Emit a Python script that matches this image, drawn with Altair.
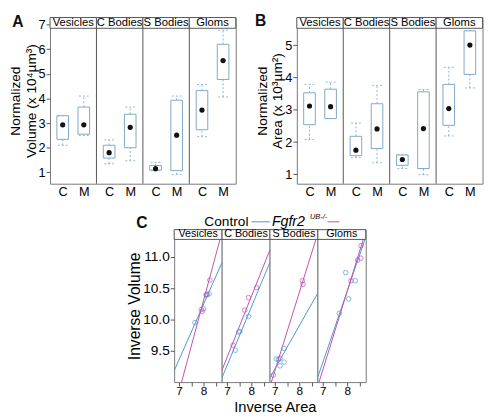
import altair as alt
import pandas as pd

FONT = "Liberation Sans"
BOX = "#7fa7c9"
WHISK = "#8fb3d3"
BLUE = "#4f98c8"
MAG = "#c24fb5"
FRAME = "#555"

groups = ["Vesicles", "C Bodies", "S Bodies", "Gloms"]
conds = ["C", "M"]

# Panel A: normalized volume (x 10^4 um^3), order per group: C, M
vol_mean = [2.93, 2.93, 1.80, 2.83, 1.15, 2.51, 3.53, 5.54]
vol_q1 = [2.34, 2.55, 1.58, 2.00, 1.09, 1.07, 2.73, 4.77]
vol_q3 = [3.30, 3.65, 2.10, 3.36, 1.28, 3.93, 4.32, 6.20]
vol_lo = [2.10, 2.50, 1.35, 1.47, 1.07, 0.91, 2.45, 4.06]
vol_hi = [3.30, 4.10, 2.32, 3.65, 1.41, 4.10, 4.57, 6.77]

# Panel B: normalized area (x 10^3 um^2)
area_mean = [3.12, 3.10, 1.75, 2.41, 1.46, 2.42, 3.04, 5.01]
area_q1 = [2.54, 2.73, 1.58, 1.80, 1.28, 1.18, 2.52, 4.10]
area_q3 = [3.53, 3.64, 2.18, 3.19, 1.60, 3.56, 3.79, 5.45]
area_lo = [2.08, 2.73, 1.52, 1.36, 1.18, 0.99, 2.19, 3.68]
area_hi = [3.79, 3.86, 2.59, 3.76, 1.62, 3.63, 4.32, 5.45]

# Panel C: inverse area vs inverse volume
series_names = ["Control", "Fgfr2"]
ctrl_x = [[7.65, 8.00, 8.10, 8.14, 8.23], [7.34, 7.48, 7.53, 7.88],
          [7.06, 7.15, 7.21, 7.38, 7.38], [7.68, 7.94, 8.06, 8.33]]
ctrl_y = [[9.95, 10.17, 10.39, 10.40, 10.41], [9.51, 9.80, 9.81, 10.05],
          [9.37, 9.36, 9.26, 9.54, 9.32], [10.10, 10.75, 10.33, 10.62]]
mut_x = [[7.91, 7.95, 8.14, 8.26], [7.25, 7.73, 7.88, 8.21],
         [6.94, 7.21, 8.13, 8.15], [8.16, 8.43, 8.56, 8.57]]
mut_y = [[10.16, 10.13, 10.40, 10.63], [9.59, 10.15, 10.35, 10.51],
         [9.11, 9.38, 10.62, 10.56], [10.62, 10.95, 10.98, 11.18]]
ctrl_fit = [(3.17, 0.884), (2.68, 0.94), (4.38, 0.69), (1.33, 1.14)]
mut_fit = [(-1.30, 1.45), (2.53, 0.98), (0.43, 1.25), (0.37, 1.26)]

NOSTROKE = alt.ViewBackground(stroke=None)


def box_chart(mean, q1, q3, lo, hi, ybot, ytop, yticks, ytitle, letter, letter_xy,
              width=190, plot_h=159, strip_h=11):
    span = 2.2
    dom_top = ytop + strip_h * (ytop - ybot) / plot_h
    rows = []
    for i, g in enumerate(groups):
        for j, c in enumerate(conds):
            k = 2 * i + j
            pos = i * span + (j + 1)
            rows.append(dict(group=g, cond=c, pos=pos, mean=mean[k], q1=q1[k], q3=q3[k],
                             lo=lo[k], hi=hi[k], bl=pos - 0.275, br=pos + 0.275,
                             cl=pos - 0.23, cr=pos + 0.23))
    df = pd.DataFrame(rows)
    sdf = pd.DataFrame(dict(label=groups,
                            x0=[i * span + 0.4 for i in range(4)],
                            x1=[(i + 1) * span + 0.4 for i in range(4)]))
    sdf["xm"] = (sdf.x0 + sdf.x1) / 2
    sdf["y0"] = ytop
    sdf["y1"] = dom_top
    sdf["ym"] = (ytop + dom_top) / 2
    ddf = pd.DataFrame(dict(x=[(i + 1) * span + 0.4 for i in range(3)]))

    xs = alt.Scale(domain=[0.4, 4 * span + 0.4], nice=False, zero=False)
    ys = alt.Scale(domain=[ybot, dom_top], nice=False, zero=False)
    xax = alt.Axis(values=[r["pos"] for r in rows],
                   labelExpr=f"(datum.value - floor((datum.value - 0.4) / {span}) * {span}) < 1.5 ? '{conds[0]}' : '{conds[1]}'",
                   ticks=False, title=None, labelFontSize=13, labelPadding=2)
    yax = alt.Axis(values=yticks, title=ytitle, titleFontSize=14, labelFontSize=13,
                   tickSize=4, titleLineHeight=16, titlePadding=0, labelPadding=1)

    def X(f):
        return alt.X(f"{f}:Q", scale=xs, axis=xax)

    def Y(f):
        return alt.Y(f"{f}:Q", scale=ys, axis=yax)

    base = alt.Chart(df)
    dash = dict(color=WHISK, strokeDash=[2, 2], strokeWidth=1)
    layers = [
        alt.Chart(ddf).mark_rule(color=FRAME, strokeWidth=1).encode(x=X("x")),
        base.mark_rule(**dash).encode(x=X("pos"), y=Y("q3"), y2="hi:Q"),
        base.mark_rule(**dash).encode(x=X("pos"), y=Y("lo"), y2="q1:Q"),
        base.mark_rule(**dash).encode(x=X("cl"), x2="cr:Q", y=Y("hi")),
        base.mark_rule(**dash).encode(x=X("cl"), x2="cr:Q", y=Y("lo")),
        base.mark_rect(fill="white", stroke=BOX, strokeWidth=1).encode(x=X("bl"), x2="br:Q", y=Y("q1"), y2="q3:Q"),
        base.mark_circle(size=28, color="#111", opacity=1).encode(x=X("pos"), y=Y("mean")),
        alt.Chart(sdf).mark_rect(fill="white", stroke=FRAME, strokeWidth=1).encode(
            x=X("x0"), x2="x1:Q", y=Y("y0"), y2="y1:Q"),
        alt.Chart(sdf).mark_text(fontSize=11.5, font=FONT, baseline="middle", color="#000").encode(
            x=X("xm"), y=Y("ym"), text="label:N"),
        alt.Chart(pd.DataFrame({"label": [letter]})).mark_text(
            fontSize=16, fontWeight="bold", font=FONT, baseline="middle", align="center", color="#111"
        ).encode(text="label:N", x=alt.value(letter_xy[0]), y=alt.value(letter_xy[1])),
    ]
    return alt.layer(*layers).properties(width=width, height=plot_h + strip_h)


A = box_chart(vol_mean, vol_q1, vol_q3, vol_lo, vol_hi, 0.54, 6.85, [1, 2, 3, 4, 5, 6, 7],
              ["Normalized", "Volume (x 10⁴µm³)"], "A", (-33, 5))
B = box_chart(area_mean, area_q1, area_q3, area_lo, area_hi, 0.71, 5.53, [1, 2, 3, 4, 5],
              ["Normalized", "Area (x 10³µm²)"], "B", (-37, 4))

# ---- Panel C as one view with four side-by-side panels ----
XMIN, XMAX, YMIN, YMAX = 6.8, 8.76, 9.0, 11.28
PW = XMAX - XMIN
C_W, C_PH, C_SH = 196, 146, 10
c_top = YMAX + C_SH * (YMAX - YMIN) / C_PH

pt_rows, fit_rows = [], []
for i in range(4):
    off = i * PW - XMIN
    for sname, xs_, ys_, (b0, b1) in [(series_names[0], ctrl_x[i], ctrl_y[i], ctrl_fit[i]),
                                      (series_names[1], mut_x[i], mut_y[i], mut_fit[i])]:
        for xv, yv in zip(xs_, ys_):
            pt_rows.append(dict(xc=xv + off, y=yv, series=sname))
        x_lo = max(XMIN, (YMIN - b0) / b1)
        x_hi = min(XMAX, (YMAX - b0) / b1)
        for xv in (x_lo, x_hi):
            fit_rows.append(dict(xc=xv + off, y=b0 + b1 * xv, series=sname, seg=f"{sname}{i}"))
pts = pd.DataFrame(pt_rows)
fit = pd.DataFrame(fit_rows)
cs = pd.DataFrame(dict(label=groups, x0=[i * PW for i in range(4)], x1=[(i + 1) * PW for i in range(4)]))
cs["xm"] = (cs.x0 + cs.x1) / 2
cs["y0"] = YMAX
cs["y1"] = c_top
cs["ym"] = (YMAX + c_top) / 2
cd = pd.DataFrame(dict(x=[(i + 1) * PW for i in range(3)]))

tick_vals = [round(i * PW + v - XMIN, 4) for i in range(4) for v in [7, 7.5, 8, 8.5]]
loc = f"(datum.value - floor(datum.value / {PW} + 0.001) * {PW} + {XMIN})"
cx_ax = alt.Axis(values=tick_vals, labelExpr=f"abs({loc} - round({loc})) < 0.01 ? format(round({loc}), 'd') : ''",
                 tickSize=4, labelFontSize=12, labelPadding=0, title="Inverse Area", titleFontSize=15,
                 titleX=103, titleY=18, titleBaseline="top", titleAlign="center")
cy_ax = alt.Axis(values=[9.5, 10.0, 10.5, 11.0], format=".1f", title="Inverse Volume",
                 titleFontSize=16, labelFontSize=14, tickSize=4, titlePadding=0, labelPadding=1)
cxs = alt.Scale(domain=[0, 4 * PW], nice=False, zero=False)
cys = alt.Scale(domain=[YMIN, c_top], nice=False, zero=False)


def CX(f):
    return alt.X(f"{f}:Q", scale=cxs, axis=cx_ax)


def CY(f):
    return alt.Y(f"{f}:Q", scale=cys, axis=cy_ax)


color_scale = alt.Scale(domain=series_names, range=[BLUE, MAG])
LY = -8
c_layers = [
    alt.Chart(cd).mark_rule(color=FRAME, strokeWidth=1).encode(x=CX("x")),
    alt.Chart(fit).mark_line(strokeWidth=1).encode(
        x=CX("xc"), y=CY("y"), color=alt.Color("series:N", scale=color_scale, legend=None), detail="seg:N"),
    alt.Chart(pts).mark_point(filled=False, size=22, strokeWidth=1).encode(
        x=CX("xc"), y=CY("y"), color=alt.Color("series:N", scale=color_scale, legend=None)),
    alt.Chart(cs).mark_rect(fill="white", stroke=FRAME, strokeWidth=1).encode(
        x=CX("x0"), x2="x1:Q", y=CY("y0"), y2="y1:Q"),
    alt.Chart(cs).mark_text(fontSize=11, font=FONT, baseline="middle", color="#000").encode(
        x=CX("xm"), y=CY("ym"), text="label:N"),
    # legend and panel letter
    alt.Chart(pd.DataFrame({"label": [series_names[0]]})).mark_text(
        fontSize=14, font=FONT, align="right", baseline="middle", color="#000"
    ).encode(text="label:N", x=alt.value(76), y=alt.value(LY)),
    alt.Chart(pd.DataFrame({"s": [series_names[0]]})).mark_rule(color=BLUE, strokeWidth=1).encode(
        x=alt.value(79), x2=alt.value(98), y=alt.value(LY)),
    alt.Chart(pd.DataFrame({"label": [series_names[1]]})).mark_text(
        fontSize=14.5, font=FONT, fontStyle="italic", align="left", baseline="middle", color="#000"
    ).encode(text="label:N", x=alt.value(100), y=alt.value(LY)),
    alt.Chart(pd.DataFrame({"label": ["UB-/-"]})).mark_text(
        fontSize=7.5, font=FONT, fontStyle="italic", align="left", baseline="middle", color="#000"
    ).encode(text="label:N", x=alt.value(139), y=alt.value(LY - 5)),
    alt.Chart(pd.DataFrame({"s": [series_names[1]]})).mark_rule(color=MAG, strokeWidth=1).encode(
        x=alt.value(157), x2=alt.value(169), y=alt.value(LY)),
    alt.Chart(pd.DataFrame({"label": ["C"]})).mark_text(
        fontSize=16, fontWeight="bold", font=FONT, align="center", baseline="middle", color="#111"
    ).encode(text="label:N", x=alt.value(-33), y=alt.value(LY + 1)),
]
C = alt.layer(*c_layers).properties(width=C_W, height=C_PH + C_SH)

spacer = alt.Chart(pd.DataFrame({"a": [0]})).mark_point(opacity=0, size=1).encode(
    x=alt.value(0), y=alt.value(0)).properties(width=78, height=1, view=NOSTROKE)

top_row = alt.hconcat(A, B, spacing=17.5)
bottom_row = alt.hconcat(spacer, C, spacing=0)
chart = alt.vconcat(top_row, bottom_row, spacing=13).properties(padding=0).configure_axis(
    grid=False, domain=False, labelFont=FONT, titleFont=FONT, labelColor="#000", titleColor="#000",
    tickColor="#555", titleFontWeight="normal"
).configure_view(stroke="#777", strokeWidth=1).configure_text(font=FONT)

chart.save("out.html", embed_options={"renderer": "svg", "actions": False})
